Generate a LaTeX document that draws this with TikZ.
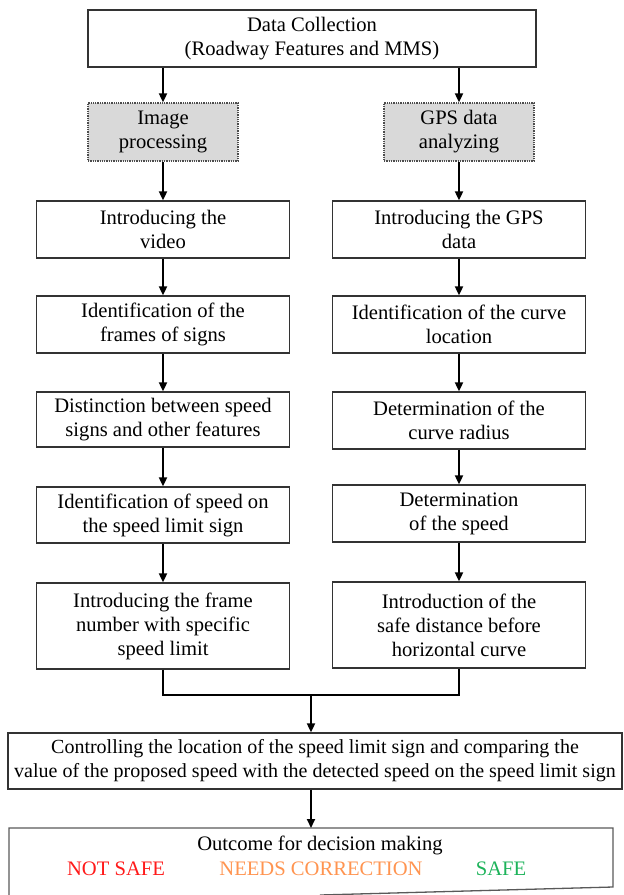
\documentclass[tikz,border=0pt]{standalone}
\usepackage{fontspec}
\setmainfont{Liberation Serif}
\usepackage{tikz}
\usetikzlibrary{arrows.meta, positioning, calc}
\usepackage{xcolor}
\definecolor{notsafe}{HTML}{FF1A1A}
\definecolor{fixit}{HTML}{FF9450}
\definecolor{safegreen}{HTML}{1DB35A}
\definecolor{procgray}{HTML}{D9D9D9}

\begin{document}
\begin{tikzpicture}[x=1pt, y=-1pt,
  every node/.style={font=\fontsize{20.6}{24}\selectfont, align=center},
  stepbox/.style={draw=black!80, line width=1.3pt, minimum width=253pt, minimum height=57pt, inner sep=2pt},
  procbox/.style={draw=black!70, densely dotted, line width=1.3pt, fill=procgray, minimum width=150pt, minimum height=58pt},
  arr/.style={-{Triangle[length=9pt,width=8pt]}, line width=1.9pt},
  link/.style={line width=1.9pt}]
  \useasboundingbox (0,0) rectangle (624,895);

  \node[stepbox, minimum width=448pt] (data) at (312,38.5) {Data Collection\\(Roadway Features and MMS)};

  \node[procbox] (img) at (163,132) {Image\\processing};
  \node[procbox] (gps) at (459,132) {GPS data\\analyzing};

  \node[stepbox] (l1) at (163,229.5) {Introducing the\\video};
  \node[stepbox] (l2) at (163,324.5) {Identification of the\\frames of signs};
  \node[stepbox, minimum height=55pt] (l3) at (163,419.5) {Distinction between speed\\signs and other features};
  \node[stepbox, minimum height=56pt] (l4) at (163,515) {Identification of speed on\\the speed limit sign};
  \node[stepbox, minimum height=86pt] (l5) at (163,626) {Introducing the frame\\number with specific\\speed limit};

  \node[stepbox] (r1) at (459,229.5) {Introducing the GPS\\data};
  \node[stepbox] (r2) at (459,324.5) {Identification of the curve\\location};
  \node[stepbox] (r3) at (459,420.5) {Determination of the\\curve radius};
  \node[stepbox] (r4) at (459,513.5) {Determination\\of the speed};
  \node[stepbox, minimum height=86pt] (r5) at (459,625) {Introduction of the\\safe distance before\\horizontal curve};

  \node[stepbox, minimum width=614pt, minimum height=56pt, inner sep=1pt, font=\fontsize{20}{24}\selectfont] (ctrl) at (315,761) {Controlling the location of the speed limit sign and comparing the\\value of the proposed speed with the detected speed on the speed limit sign};

  % torn outcome box at the foot of the page
  \coordinate (outtop) at (311,828);
  \draw[line width=1.3pt, draw=black!65] (9,895) -- (9,828) -- (613,828) -- (613,887) -- (320,895);
  \node (outlbl) at (320,845) {Outcome for decision making};
  \node[text=notsafe] (nsafe) at (116,869) {NOT SAFE};
  \node[text=fixit] (fix) at (321,869) {NEEDS CORRECTION};
  \node[text=safegreen] (safe) at (501,869) {SAFE};

  \draw[arr] (data.south -| img) -- (img);
  \draw[arr] (data.south -| gps) -- (gps);
  \draw[arr] (img) -- (l1);
  \draw[arr] (l1) -- (l2);
  \draw[arr] (l2) -- (l3);
  \draw[arr] (l3) -- (l4);
  \draw[arr] (l4) -- (l5);
  \draw[arr] (gps) -- (r1);
  \draw[arr] (r1) -- (r2);
  \draw[arr] (r2) -- (r3);
  \draw[arr] (r3) -- (r4);
  \draw[arr] (r4) -- (r5);

  \coordinate (join) at (311,695);
  \draw[link] (l5.south) |- (join) -| (r5.south);
  \draw[arr] (join) -- (join |- ctrl.north);
  \draw[arr] (ctrl.south -| outtop) -- (outtop);
\end{tikzpicture}
\end{document}
